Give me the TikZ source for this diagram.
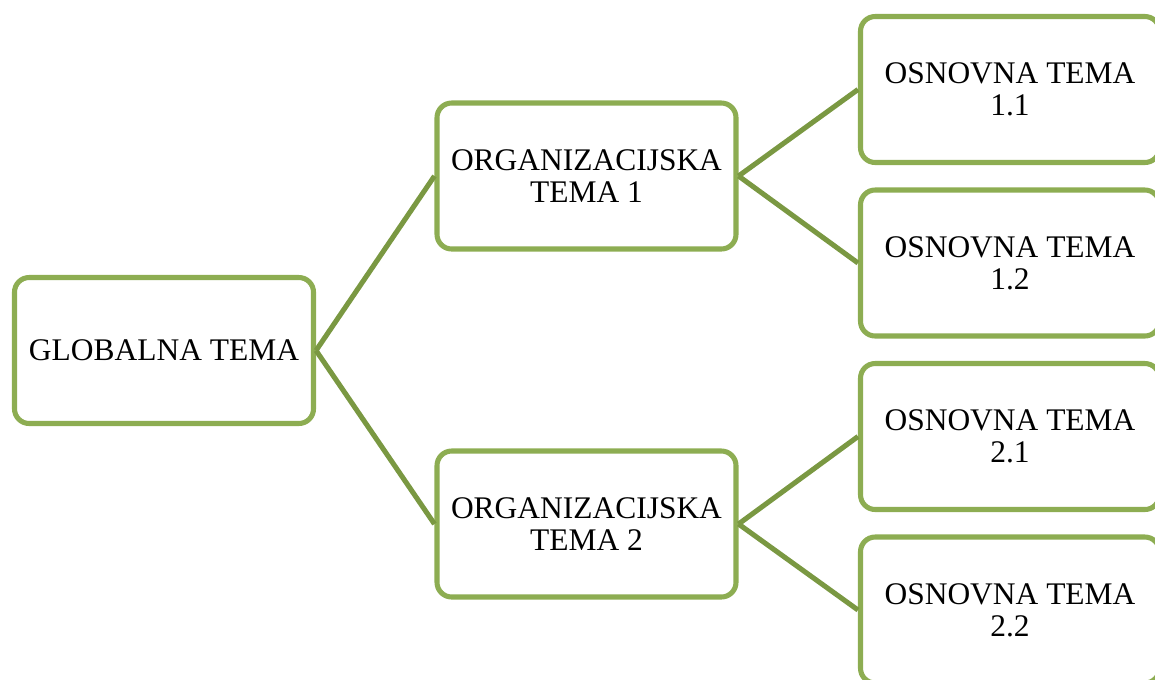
\documentclass[tikz,border=0pt]{standalone}
\usepackage{fontspec}
\setmainfont{Liberation Serif}
\definecolor{boxgreen}{RGB}{141,173,82}
\definecolor{linegreen}{RGB}{122,152,66}
\begin{document}
\begin{tikzpicture}[x=0.75pt,y=-0.75pt,
  topic/.style={draw=boxgreen, line width=3.8pt, rounded corners=11pt, fill=white,
    minimum width=224.25pt, minimum height=109.5pt, inner sep=0pt,
    align=center, font=\fontsize{23.6}{24}\selectfont},
  link/.style={draw=linegreen, line width=3.8pt}]
\useasboundingbox (0,0) rectangle (1155,679);
\clip (0,0) rectangle (1155,679);
\node[topic] (g) at (164,350.5) {GLOBALNA TEMA};
\node[topic] (o1) at (586.5,176) {ORGANIZACIJSKA\\TEMA 1};
\node[topic] (o2) at (586.5,524) {ORGANIZACIJSKA\\TEMA 2};
\node[topic] (b11) at (1010,89.5) {OSNOVNA TEMA\\1.1};
\node[topic] (b12) at (1010,263) {OSNOVNA TEMA\\1.2};
\node[topic] (b21) at (1010,436.5) {OSNOVNA TEMA\\2.1};
\node[topic] (b22) at (1010,610) {OSNOVNA TEMA\\2.2};
\begin{scope}[on background layer/.try]
\end{scope}
\draw[link] (g.east) -- (o1.west);
\draw[link] (g.east) -- (o2.west);
\draw[link] (o1.east) -- (b11.west);
\draw[link] (o1.east) -- (b12.west);
\draw[link] (o2.east) -- (b21.west);
\draw[link] (o2.east) -- (b22.west);
\end{tikzpicture}
\end{document}
